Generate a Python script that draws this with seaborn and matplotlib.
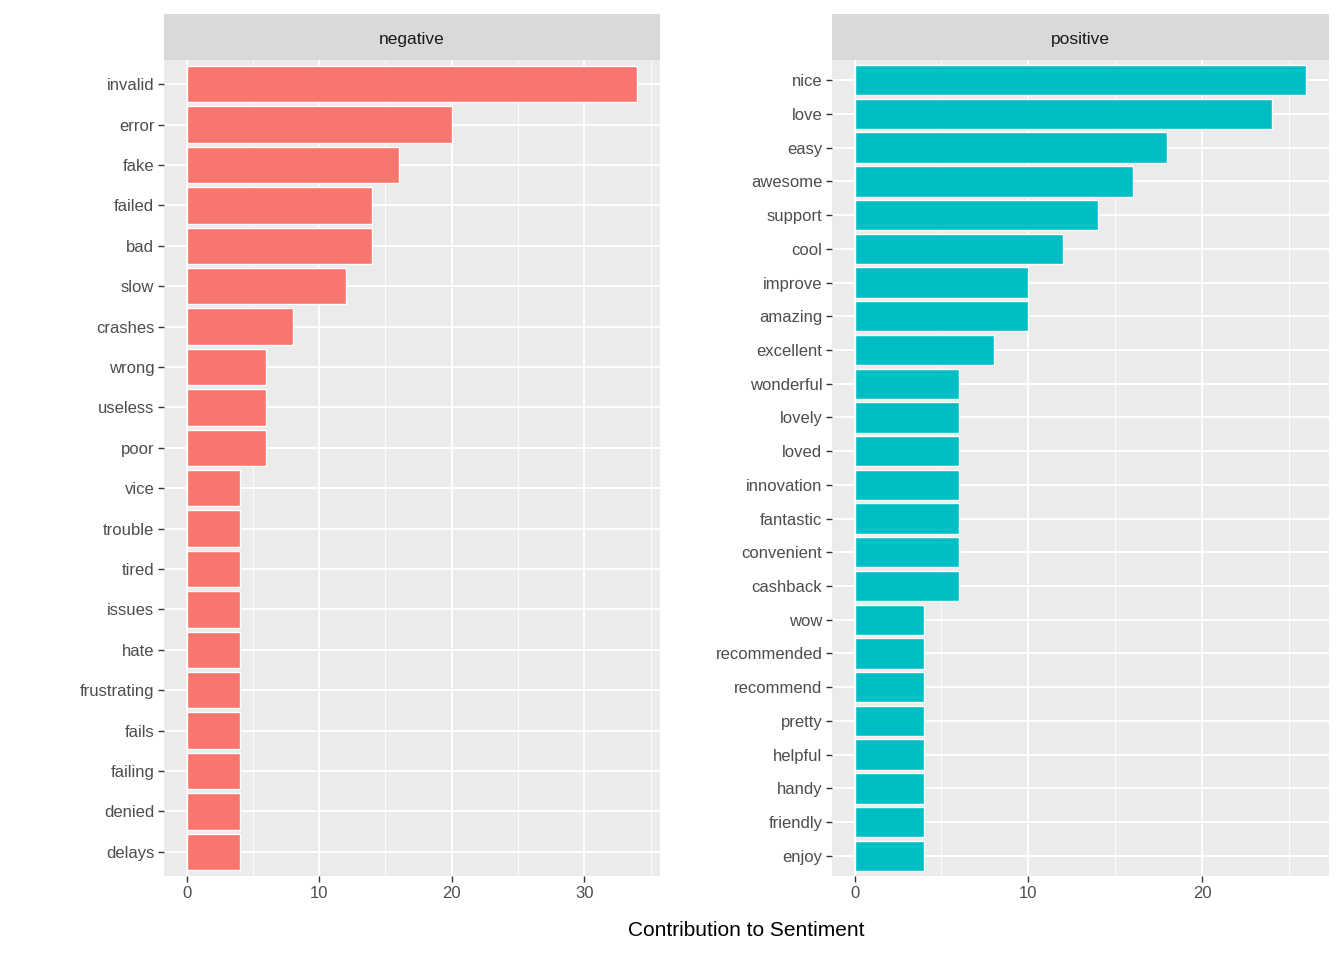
import matplotlib
matplotlib.use("Agg")
import matplotlib.pyplot as plt
import seaborn as sns
import pandas as pd

neg_words = ["invalid", "error", "fake", "failed", "bad", "slow", "crashes", "wrong",
             "useless", "poor", "vice", "trouble", "tired", "issues", "hate",
             "frustrating", "fails", "failing", "denied", "delays"]
neg_vals = [34, 20, 16, 14, 14, 12, 8, 6, 6, 6, 4, 4, 4, 4, 4, 4, 4, 4, 4, 4]

pos_words = ["nice", "love", "easy", "awesome", "support", "cool", "improve", "amazing",
             "excellent", "wonderful", "lovely", "loved", "innovation", "fantastic",
             "convenient", "cashback", "wow", "recommended", "recommend", "pretty",
             "helpful", "handy", "friendly", "enjoy"]
pos_vals = [26, 24, 18, 16, 14, 12, 10, 10, 8, 6, 6, 6, 6, 6, 6, 6, 4, 4, 4, 4, 4, 4, 4, 4]

sns.set_theme(style="white")
plt.rcParams['font.family'] = ['Arial', 'Liberation Sans', 'DejaVu Sans']

W, H = 1344, 960
fig = plt.figure(figsize=(W / 100, H / 100), dpi=100)

panels = [
    ("negative", neg_words, neg_vals, "#F8766D", 164, 660, [0, 10, 20, 30], [5, 15, 25, 35]),
    ("positive", pos_words, pos_vals, "#00BFC4", 832, 1329, [0, 10, 20], [5, 15, 25]),
]

for title, words, vals, color, x0, x1, majors, minors in panels:
    ax = fig.add_axes([x0 / W, (H - 876) / H, (x1 - x0) / W, 816 / H])
    df = pd.DataFrame({"word": words, "n": vals})
    ax.set_facecolor("#EBEBEB")
    for m in minors:
        ax.axvline(m, color="white", lw=0.6, zorder=0)
    for m in majors:
        ax.axvline(m, color="white", lw=1.3, zorder=0)
    for i in range(len(words)):
        ax.axhline(i, color="white", lw=1.3, zorder=0)
    sns.barplot(data=df, x="n", y="word", color=color, width=0.9,
                saturation=1, ax=ax, zorder=2)
    mx = max(vals)
    ax.set_xlim(-0.05 * mx, mx * 1.05)
    ax.set_ylim(len(words) - 0.4, -0.6)
    ax.set_xticks(majors)
    ax.set_xlabel("")
    ax.set_ylabel("")
    for s in ax.spines.values():
        s.set_visible(False)
    ax.tick_params(axis="both", labelsize=12, colors="#4D4D4D", length=4,
                   width=1, color="#333333", left=True, bottom=True, pad=3)
    sax = fig.add_axes([x0 / W, (H - 60) / H, (x1 - x0) / W, 46 / H])
    sax.set_facecolor("#D9D9D9")
    sax.set_xticks([])
    sax.set_yticks([])
    for s in sax.spines.values():
        s.set_visible(False)
    sax.text(0.5, 0.45, title, ha="center", va="center", fontsize=12.5, color="#1A1A1A")

fig.text(746 / W, 1 - 930 / H, "Contribution to Sentiment", ha="center", va="center",
         fontsize=15, color="black")

fig.savefig("out.png", dpi=100, facecolor="white")
